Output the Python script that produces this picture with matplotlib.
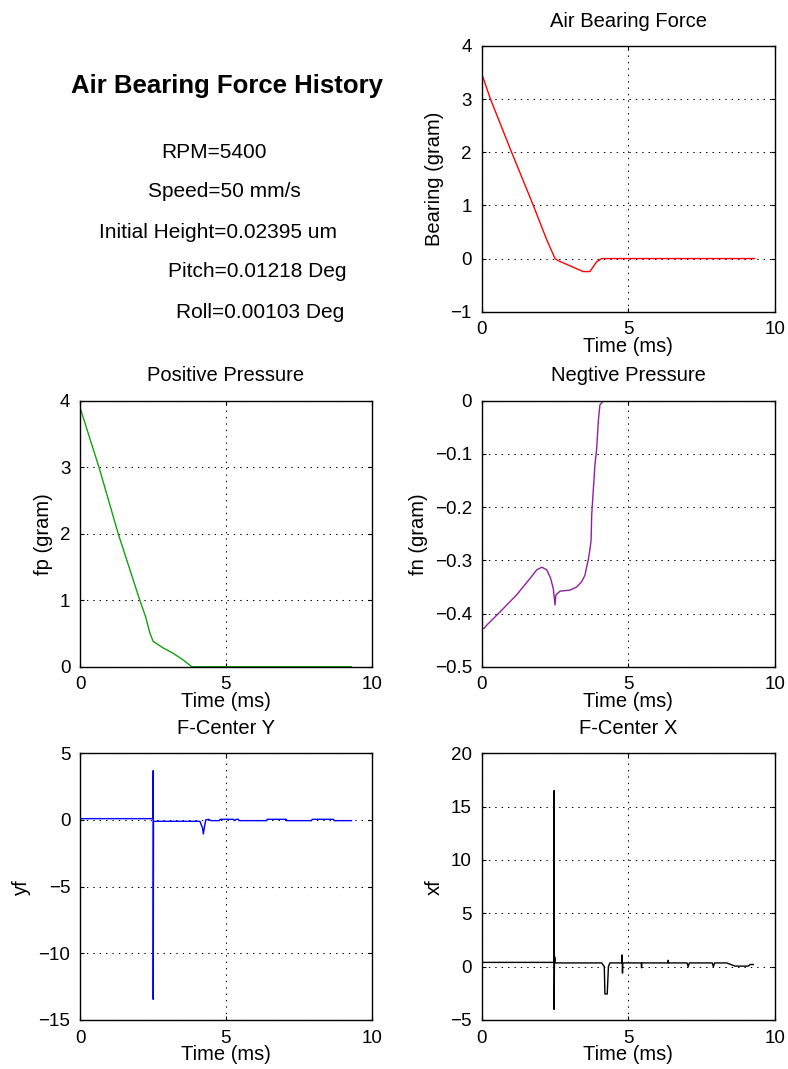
import matplotlib
matplotlib.use("Agg")
import matplotlib.pyplot as plt

plt.rcParams['font.family'] = ['Liberation Sans', 'DejaVu Sans']
plt.rcParams['lines.scale_dashes'] = False

# ---------------- data ----------------
# Air Bearing Force (gram) vs time (ms)
bear_t = [0.0, 0.3, 1.02, 1.76, 2.22, 2.5, 2.61, 3.46, 3.69, 3.92, 4.09, 9.3]
bear_v = [3.48, 3.0, 2.0, 1.0, 0.35, 0.0, -0.04, -0.245, -0.245, -0.06, 0.0, 0.0]

# Positive pressure
fp_t = [0.0, 0.65, 1.31, 2.05, 2.25, 2.4, 2.51, 2.86, 3.2, 3.54, 3.83, 9.3]
fp_v = [3.9, 3.0, 2.0, 1.0, 0.75, 0.5, 0.38, 0.28, 0.2, 0.1, 0.0, 0.0]

# Negative pressure
fn_t = [0.0, 0.08, 0.17, 0.625, 1.19, 1.65, 1.875, 2.05, 2.22, 2.35, 2.44, 2.5,
        2.53, 2.67, 3.01, 3.24, 3.41, 3.52, 3.58, 3.63, 3.69, 3.73, 3.75, 3.86,
        3.92, 3.98, 4.03, 4.15, 9.3]
fn_v = [-0.428, -0.428, -0.422, -0.397, -0.365, -0.334, -0.318, -0.313, -0.318,
        -0.334, -0.353, -0.384, -0.365, -0.358, -0.356, -0.35, -0.34, -0.328,
        -0.312, -0.3, -0.28, -0.262, -0.215, -0.121, -0.09, -0.036, -0.008, 0.0, 0.0]

# F-Center Y
yf_t = [0.0, 2.50, 2.51, 2.51, 2.52, 4.11, 4.2, 4.23, 4.26, 4.31, 4.4, 4.5, 4.78,
        4.8, 5.26, 5.3, 5.35, 5.43, 5.45, 6.4, 6.42, 7.07, 7.09, 7.94, 7.96,
        8.69, 8.71, 9.31]
yf_v = [0.1, 0.1, 3.7, -13.45, -0.1, -0.1, -0.6, -1.05, -0.6, 0.0, 0.05, -0.05,
        -0.05, 0.05, 0.05, -0.05, 0.05, 0.05, -0.05, -0.05, 0.05, 0.05, -0.05,
        -0.05, 0.05, 0.05, -0.05, -0.05]

# F-Center X
xf_t = [0.0, 2.46, 2.47, 2.47, 2.48, 2.49, 2.50, 2.52, 4.09, 4.18, 4.2, 4.28,
        4.32, 4.37, 4.78, 4.79, 4.80, 4.81, 5.44, 5.45, 5.46, 6.35, 6.36, 6.37,
        7.0, 7.04, 7.08, 7.86, 7.9, 7.94, 8.35, 8.64, 9.09, 9.15, 9.26]
xf_v = [0.4, 0.4, 16.5, -4.0, 0.4, 0.9, 0.4, 0.35, 0.35, 0.0, -2.56, -2.56,
        0.0, 0.35, 0.35, 1.1, -0.6, 0.35, 0.35, -0.1, 0.35, 0.35, 0.6, 0.35,
        0.35, 0.0, 0.35, 0.35, 0.0, 0.35, 0.35, 0.05, 0.05, 0.2, 0.2]

xticks = [0, 5, 10]

W, H = 788, 1069
fig = plt.figure(figsize=(W / 100, H / 100), dpi=100)


def ax_at(left, top, right, bottom):
    return fig.add_axes([left / W, 1 - bottom / H, (right - left) / W, (bottom - top) / H])


def style(ax, title, ylabel, ylim, yticks):
    ax.set_xlim(0, 10)
    ax.set_ylim(*ylim)
    ax.set_xticks(xticks)
    ax.set_yticks(yticks)
    ax.set_title(title, fontsize=14.5, pad=14)
    ax.set_xlabel('Time (ms)', fontsize=14.5, labelpad=-1)
    ax.set_ylabel(ylabel, fontsize=14.5, labelpad=5)
    ax.tick_params(direction='in', length=3, width=0.8, labelsize=13.5, pad=7,
                   top=True, right=True)
    ax.grid(True, color='black', linestyle=(0, (1.0, 3.6)), linewidth=0.75)
    for s in ax.spines.values():
        s.set_linewidth(1.0)


lw = 1.0

ax1 = ax_at(481.7, 46, 775, 311.7)
ax1.plot(bear_t, bear_v, color='#ff0000', linewidth=lw)
style(ax1, 'Air Bearing Force', 'Bearing (gram)', (-1, 4), [-1, 0, 1, 2, 3, 4])

ax2 = ax_at(80, 400.7, 371.7, 666.7)
ax2.plot(fp_t, fp_v, color='#12a012', linewidth=lw)
style(ax2, 'Positive Pressure', 'fp (gram)', (0, 4), [0, 1, 2, 3, 4])

ax3 = ax_at(481.7, 400.7, 775, 666.7)
ax3.plot(fn_t, fn_v, color='#9020a0', linewidth=lw)
style(ax3, 'Negtive Pressure', 'fn (gram)', (-0.5, 0), [-0.5, -0.4, -0.3, -0.2, -0.1, 0])
ax3.set_yticklabels(['\u22120.5', '\u22120.4', '\u22120.3', '\u22120.2', '\u22120.1', '0'])

ax4 = ax_at(80, 753.3, 371.7, 1020)
ax4.plot(yf_t, yf_v, color='#0000ff', linewidth=lw)
style(ax4, 'F-Center Y', 'yf', (-15, 5), [-15, -10, -5, 0, 5])

ax5 = ax_at(481.7, 753.3, 775, 1020)
ax5.plot(xf_t, xf_v, color='black', linewidth=lw)
style(ax5, 'F-Center X', 'xf', (-5, 20), [-5, 0, 5, 10, 15, 20])

# header text block
fig.text(71 / W, 1 - 93.3 / H, 'Air Bearing Force History', fontsize=18.5,
         fontweight='bold', ha='left', va='baseline')
info = [('RPM=5400', 161.7, 158.3),
        ('Speed=50 mm/s', 148, 196.7),
        ('Initial Height=0.02395 um', 99, 238.3),
        ('Pitch=0.01218 Deg', 168, 277.3),
        ('Roll=0.00103 Deg', 176, 318.3)]
for txt, x, y in info:
    fig.text(x / W, 1 - y / H, txt, fontsize=15, ha='left', va='baseline')

fig.savefig('out.png', dpi=100)
